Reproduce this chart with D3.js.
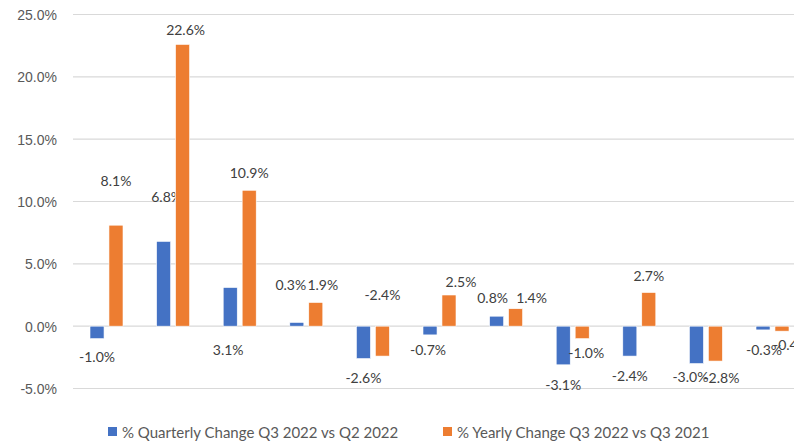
<!DOCTYPE html>
<html>
<head>
<meta charset="utf-8">
<script src="https://cdn.jsdelivr.net/npm/d3@7"></script>
<style>
  body { margin: 0; background: #fff; }
  svg { display: block; font-family: Lato, "Open Sans", sans-serif; }
  .tick text { fill: #595959; font-size: 14px; }
  .lbl { fill: #404040; font-size: 14px; }
  .leg { fill: #595959; font-size: 15px; }
</style>
</head>
<body>
<svg id="chart" width="794" height="441"></svg>
<script>
// categories (names not shown in the picture)
const categories = ["c1", "c2", "c3", "c4", "c5", "c6", "c7", "c8", "c9", "c10", "c11"];
const quarterly = [-1.0, 6.8, 3.1, 0.3, -2.6, -0.7, 0.8, -3.1, -2.4, -3.0, -0.3];
const yearly = [8.1, 22.6, 10.9, 1.9, -2.4, 2.5, 1.4, -1.0, 2.7, -2.8, -0.4];
const seriesNames = ["% Quarterly Change Q3 2022 vs Q2 2022", "% Yearly Change Q3 2022 vs Q3 2021"];
const yTicks = [-5, 0, 5, 10, 15, 20, 25];

// label nudges (px) away from the default spot, as dragged in the original
const nudgeQ = [[0, 3], [3, -29], [-2, 78], [-6, -22], [0, 5], [-2, 0], [-4, -3], [0, 5], [0, 5], [-6, -1], [1, 5]];
const nudgeY = [[0, -29], [3, 1], [0, -2], [7, -2], [0, -76], [12, 2], [16, 4], [4, -1], [0, -1], [6, 2], [9, -1]];

const colors = ["#4472C4", "#ED7D31"];

let svg = d3.select("#chart");

let x = d3.scaleBand()
    .domain(categories)
    .range([73.2, 73.2 + 66.6 * categories.length]);

let inner = d3.scaleBand()
    .domain([0, 1])
    .range([16.8, 66.6 - 16.8])
    .paddingInner(0.26);

let y = d3.scaleLinear()
    .domain([-5, 25])
    .range([388.5, 14.5]);

// grid
svg.append("g")
    .selectAll("line")
    .data(yTicks)
    .enter().append("line")
    .attr("x1", 73).attr("x2", 794)
    .attr("y1", d => y(d)).attr("y2", d => y(d))
    .attr("stroke", "#d9d9d9")
    .attr("stroke-width", 1.2);

// y axis labels
let yAxis = d3.axisLeft(y)
    .tickValues(yTicks)
    .tickSize(0)
    .tickPadding(0)
    .tickFormat(d => d.toFixed(1) + "%");

svg.append("g")
    .attr("transform", "translate(57,0)")
    .call(yAxis)
    .call(g => g.select(".domain").remove())
    .call(g => g.selectAll("text").attr("dy", "0.35em"));

let series = [quarterly, yearly];
let nudges = [nudgeQ, nudgeY];

series.forEach(function(vals, s) {
    let g = svg.append("g");
    g.selectAll("rect")
        .data(vals)
        .enter().append("rect")
        .attr("x", (d, i) => x(categories[i]) + inner(s))
        .attr("width", inner.bandwidth())
        .attr("y", d => y(Math.max(0, d)))
        .attr("height", d => Math.abs(y(d) - y(0)))
        .attr("fill", colors[s])
        .attr("stroke", "#fff")
        .attr("stroke-width", 0.6);

    g.selectAll("text")
        .data(vals)
        .enter().append("text")
        .attr("class", "lbl")
        .attr("text-anchor", "middle")
        .attr("dy", "0.35em")
        .attr("x", (d, i) => x(categories[i]) + inner(s) + inner.bandwidth() / 2 + nudges[s][i][0])
        .attr("y", (d, i) => (d >= 0 ? y(d) - 15 : y(d) + 15) + nudges[s][i][1])
        .text(d => d.toFixed(1) + "%");
});

// legend
let legX = [108, 443];
let leg = svg.append("g");
seriesNames.forEach(function(name, s) {
    leg.append("rect")
        .attr("x", legX[s]).attr("y", 427)
        .attr("width", 9).attr("height", 9)
        .attr("fill", colors[s]);
    leg.append("text")
        .attr("class", "leg")
        .attr("x", legX[s] + 14)
        .attr("y", 438)
        .text(name);
});
</script>
</body>
</html>
